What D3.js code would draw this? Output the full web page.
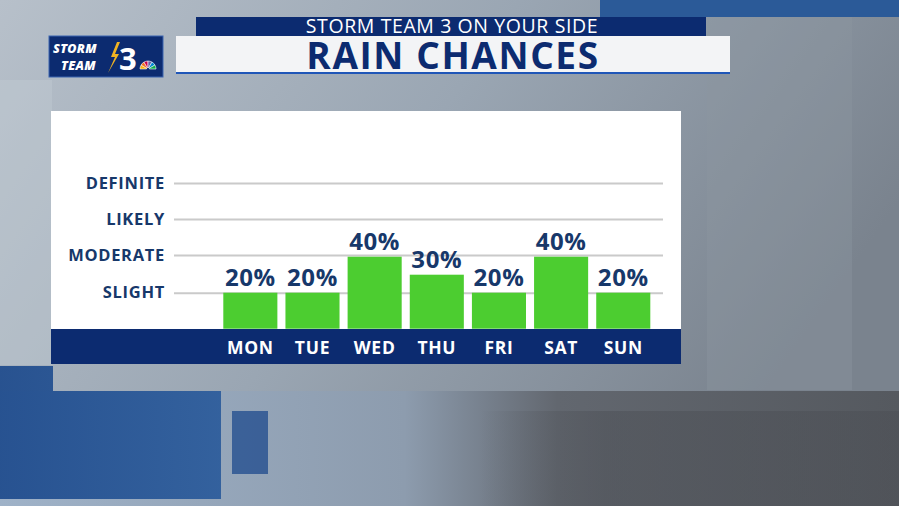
<!DOCTYPE html>
<html>
<head>
<meta charset="utf-8">
<script src="https://cdn.jsdelivr.net/npm/d3@7"></script>
<style>
  html, body { margin: 0; padding: 0; background: #8e9aa8; overflow: hidden; }
  svg { display: block; font-family: "Open Sans", "DejaVu Sans", sans-serif; }
</style>
</head>
<body>
<div id="chart-container"></div>
<script>
// Rain chances per day of the week, in percent
const days = ["MON", "TUE", "WED", "THU", "FRI", "SAT", "SUN"];
const chances = [20, 20, 40, 30, 20, 40, 20];
const levelLabels = ["SLIGHT", "MODERATE", "LIKELY", "DEFINITE"];
const levelValues = [20, 41, 61, 81];

const W = 899, H = 506;
const navy = "#0c2b70", textNavy = "#17386a", green = "#4ccd30";

const svg = d3.select("#chart-container").append("svg")
    .attr("width", W)
    .attr("height", H);

const defs = svg.append("defs");
const bg = defs.append("linearGradient").attr("id", "bg")
    .attr("x1", 0).attr("y1", 0).attr("x2", 1).attr("y2", 0.4);
bg.append("stop").attr("offset", "0%").attr("stop-color", "#b7c0ca");
bg.append("stop").attr("offset", "50%").attr("stop-color", "#9aa6b3");
bg.append("stop").attr("offset", "100%").attr("stop-color", "#7a838e");

const bottomGrad = defs.append("linearGradient").attr("id", "bottom")
    .attr("x1", 0).attr("y1", 0).attr("x2", 1).attr("y2", 0);
bottomGrad.append("stop").attr("offset", "0%").attr("stop-color", "#9fb2c8");
bottomGrad.append("stop").attr("offset", "45%").attr("stop-color", "#8d9cae");
bottomGrad.append("stop").attr("offset", "62%").attr("stop-color", "#62676f");
bottomGrad.append("stop").attr("offset", "100%").attr("stop-color", "#55595f");

const darkGrad = defs.append("linearGradient").attr("id", "dark")
    .attr("x1", 0).attr("y1", 0).attr("x2", 1).attr("y2", 0);
darkGrad.append("stop").attr("offset", "0%").attr("stop-color", "#4a4d53").attr("stop-opacity", 0);
darkGrad.append("stop").attr("offset", "30%").attr("stop-color", "#4a4d53").attr("stop-opacity", 0.45);
darkGrad.append("stop").attr("offset", "100%").attr("stop-color", "#4a4d53").attr("stop-opacity", 0.45);

const blueGrad = defs.append("linearGradient").attr("id", "blueblock")
    .attr("x1", 0).attr("y1", 0).attr("x2", 1).attr("y2", 0);
blueGrad.append("stop").attr("offset", "0%").attr("stop-color", "#1d4a8c");
blueGrad.append("stop").attr("offset", "100%").attr("stop-color", "#2b5b9b");

// background "photo"
svg.append("rect").attr("width", W).attr("height", H).attr("fill", "url(#bg)");
svg.append("rect").attr("x", 0).attr("y", 391).attr("width", W).attr("height", 115)
    .attr("fill", "url(#bottom)");
svg.append("rect").attr("x", 480).attr("y", 411).attr("width", 419).attr("height", 95)
    .attr("fill", "url(#dark)");
svg.append("rect").attr("x", 707).attr("y", 17).attr("width", 145).attr("height", 373)
    .attr("fill", "#8d96a1").attr("opacity", 0.4);
svg.append("rect").attr("x", 600).attr("y", 0).attr("width", 299).attr("height", 17)
    .attr("fill", "#2b5a98");
svg.append("path")
    .attr("d", "M0,366 L53,366 L53,391 L221,391 L221,499 L0,499 Z")
    .attr("fill", "url(#blueblock)").attr("opacity", 0.92);
svg.append("rect").attr("x", 232).attr("y", 411).attr("width", 36).attr("height", 63)
    .attr("fill", "#2c5592").attr("opacity", 0.85);
svg.append("rect").attr("x", 0).attr("y", 80).attr("width", 52).attr("height", 285)
    .attr("fill", "#c4ccd4").attr("opacity", 0.4);

// header
svg.append("rect").attr("x", 196).attr("y", 17).attr("width", 510).attr("height", 19).attr("fill", navy);
svg.append("text").attr("x", 452).attr("y", 33).attr("text-anchor", "middle")
    .attr("fill", "#fff").style("font-size", "19.5px").style("letter-spacing", "0.6px")
    .text("STORM TEAM 3 ON YOUR SIDE");
svg.append("rect").attr("x", 176).attr("y", 36).attr("width", 554).attr("height", 38).attr("fill", "#f3f4f6");
svg.append("rect").attr("x", 176).attr("y", 72).attr("width", 554).attr("height", 2).attr("fill", "#1f56b8");
svg.append("text").attr("x", 453).attr("y", 69).attr("text-anchor", "middle")
    .attr("fill", navy).style("font-size", "37px").style("font-weight", "bold").style("letter-spacing", "1.6px")
    .text("RAIN CHANCES");

// logo
const logo = svg.append("g");
logo.append("rect").attr("x", 49).attr("y", 36).attr("width", 114).attr("height", 41)
    .attr("fill", navy).attr("stroke", "#3a64b0").attr("stroke-width", 1);
logo.append("text").attr("x", 53).attr("y", 52.5).attr("fill", "#fff")
    .style("font-size", "12.5px").style("font-weight", "800").style("font-style", "italic")
    .style("letter-spacing", "0.3px")
    .text("STORM");
logo.append("text").attr("x", 61).attr("y", 70).attr("fill", "#fff")
    .style("font-size", "12.5px").style("font-weight", "800").style("font-style", "italic")
    .style("letter-spacing", "0.3px")
    .text("TEAM");
logo.append("path").attr("d", "M117,42 L111,57 L115,57 L108,73 L119,54 L115,54 L120,42 Z").attr("fill", "#f0b323");
logo.append("text").attr("x", 119).attr("y", 70)
    .attr("fill", "#fff").style("font-size", "31px").style("font-weight", "bold")
    .text("3");
const peacock = ["#fcb711", "#f37021", "#cc004c", "#6460aa", "#0089d0", "#0db14b"];
const arc = d3.arc().innerRadius(1.5).outerRadius(8);
const pie = d3.pie().sort(null).startAngle(-Math.PI / 2).endAngle(Math.PI / 2);
logo.append("g").attr("transform", "translate(148,69)")
    .selectAll("path").data(pie(peacock.map(() => 1))).enter().append("path")
    .attr("d", arc).attr("fill", (d, i) => peacock[i]).attr("stroke", "#fff").attr("stroke-width", 0.6);

// chart panel
svg.append("rect").attr("x", 51).attr("y", 111).attr("width", 630).attr("height", 219).attr("fill", "#fff");
svg.append("rect").attr("x", 51).attr("y", 329).attr("width", 630).attr("height", 35).attr("fill", navy);

const x = d3.scaleBand()
    .domain(days)
    .range([223.3, 650.3])
    .paddingInner(0.13)
    .paddingOuter(0);

const y = d3.scaleLinear()
    .domain([0, 100])
    .range([328.7, 148.7]);

// gridlines with level labels
const yAxis = svg.append("g")
    .attr("transform", "translate(174,0)")
    .call(d3.axisLeft(y).tickValues(levelValues).tickSize(-489).tickPadding(9)
        .tickFormat((d, i) => levelLabels[i]));
yAxis.select(".domain").remove();
yAxis.selectAll(".tick line").attr("stroke", "#cacaca").attr("stroke-width", 2);
yAxis.selectAll(".tick text")
    .attr("fill", textNavy)
    .style("font-family", "\"Open Sans\", sans-serif")
    .style("font-size", "16.5px")
    .style("font-weight", "bold")
    .style("letter-spacing", "0.7px");

// bars
svg.selectAll(".bar")
    .data(chances)
    .enter().append("rect")
    .attr("class", "bar")
    .attr("x", (d, i) => x(days[i]))
    .attr("y", d => y(d))
    .attr("width", x.bandwidth())
    .attr("height", d => y(0) - y(d))
    .attr("fill", green);

// value labels
svg.selectAll(".val")
    .data(chances)
    .enter().append("text")
    .attr("class", "val")
    .attr("x", (d, i) => x(days[i]) + x.bandwidth() / 2)
    .attr("y", d => y(d) - 7)
    .attr("text-anchor", "middle")
    .attr("fill", textNavy)
    .style("font-size", "24px")
    .style("font-weight", "bold")
    .style("letter-spacing", "0.6px")
    .text(d => d + "%");

// day labels
const xAxis = svg.append("g")
    .attr("transform", "translate(0,329)")
    .call(d3.axisBottom(x).tickSize(0).tickPadding(0));
xAxis.select(".domain").remove();
xAxis.selectAll(".tick text")
    .attr("dy", null)
    .attr("y", 24.5)
    .attr("fill", "#fff")
    .style("font-family", "\"Open Sans\", sans-serif")
    .style("font-size", "17.5px")
    .style("font-weight", "bold")
    .style("letter-spacing", "0.7px");
</script>
</body>
</html>
